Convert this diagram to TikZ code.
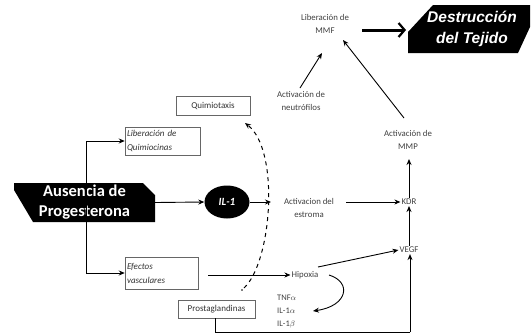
\documentclass[tikz,border=0pt]{standalone}
\usepackage{fontspec}
\setmainfont{Carlito}
\newfontfamily\arialfont{Liberation Sans}
\usetikzlibrary{arrows.meta,shapes.geometric}
\begin{document}
\begin{tikzpicture}[x=1pt,y=-1pt,
  lbl/.style={text=black!75, align=center, inner sep=1pt, font=\fontsize{8.8}{13}\selectfont},
  boxn/.style={draw=black!60, line width=0.5pt, text=black!80, inner sep=2pt, font=\fontsize{9}{14}\selectfont},
  arr/.style={-{Stealth[length=6pt,width=5pt]}, line width=0.9pt},
  blackshape/.style={fill=black},
  bigtxt/.style={text=white, align=center, inner sep=0pt}]
\fill[white] (0,0) rectangle (532,335);
\useasboundingbox (0,0) rectangle (532,335);

% black shapes
\fill[blackshape] (14,183) -- (143,183) -- (155,195) -- (155,222) -- (33,222) -- (14,190) -- cycle;
\node[bigtxt, minimum width=141pt, minimum height=39pt, font=\fontsize{16.5}{20}\selectfont\bfseries] (aus) at (84.5,202.5) {Ausencia de\\Progesterona};
\fill[blackshape] (433,5) -- (530,5) -- (530,27) -- (518,53) -- (408,53) -- (408,32) -- cycle;
\node[bigtxt, minimum width=122pt, minimum height=48pt, font=\arialfont\fontsize{15.5}{21}\selectfont\bfseries\itshape] (des) at (472,29) {Destrucción\\del Tejido};

% boxes
\node[boxn, minimum width=75pt, minimum height=28pt, text width=71pt, align=left, font=\fontsize{9}{14}\selectfont\itshape] (libq) at (162.5,141) {Liberación de\\Quimiocinas};
\node[boxn, minimum width=74pt, minimum height=19pt] (qui) at (213,105.5) {Quimiotaxis};
\node[boxn, minimum width=73pt, minimum height=32pt, text width=69pt, align=left, font=\fontsize{9}{14}\selectfont\itshape] (efe) at (161.5,273) {Efectos\\vasculares};
\node[boxn, minimum width=77pt, minimum height=18pt] (pro) at (216.5,309) {Prostaglandinas};

% IL-1
\node[ellipse, fill=black, minimum width=45pt, minimum height=33pt, inner sep=0pt, text=white, font=\fontsize{11}{12}\selectfont\bfseries\itshape] (il) at (227,202) {IL-1};

% labels
\node[lbl] (est) at (309,208) {Activacion del\\estroma};
\node[lbl] (kdr) at (409,202) {KDR};
\node[lbl] (vegf) at (409,250) {VEGF};
\node[lbl] (amp) at (408,140) {Activación de\\MMP};
\node[lbl] (neu) at (301,101) {Activación de\\neutrófilos};
\node[lbl] (mmf) at (325,24) {Liberación de\\MMF};
\node[lbl] (hip) at (305,275) {Hipoxia};
\node[lbl, align=left, anchor=west, font=\fontsize{8.5}{13}\selectfont] (tnf) at (276,312) {TNF$\alpha$\\IL-1$\alpha$\\IL-1$\beta$};
\coordinate (il1a) at (313,311);

% connectors from Ausencia
\coordinate (vt) at (86,141);
\coordinate (vb) at (86,273);
\draw[line width=0.9pt] (vt) -- (vb);
\draw[arr] (vt) -- (libq.west);
\draw[arr] (vb) -- (efe.west);
\draw[arr] (aus.east) -- (il.west);
\draw[arr] (il.east) -- (271,202);

% right chain
\draw[arr] (346,202) -- (kdr.west);
\draw[arr] (vegf.north) -- (kdr.south);
\draw[arr] (kdr.north) -- (409,159);
\draw[arr] (404,118) -- (343,40);
\draw[arr] (300,88) -- (322,53);
\draw[line width=3pt, -{Straight Barb[length=6pt,width=14pt,line width=2.2pt]}] (362,30) -- (406,30);

% hipoxia
\draw[arr] (208,275) -- (hip.west);
\draw[arr] (318,267) -- (vegf.west);
\draw[arr] (329,275) .. controls (352,282) and (348,306) .. (il1a);

% prostaglandinas
\coordinate (pb) at (215,332);
\coordinate (pr) at (410,332);
\draw[line width=0.9pt] (pro.south -| pb) -- (pb) -- (pr);
\draw[arr] (pr) -- (vegf.south -| pr);

% dashed
\fill (242,290) circle (0.9pt);
\draw[line width=1pt, dash pattern=on 4pt off 4pt, -{Stealth[length=6pt,width=5pt]}] (244,288) .. controls (272,262) and (280,150) .. (245,123);
\end{tikzpicture}
\end{document}
